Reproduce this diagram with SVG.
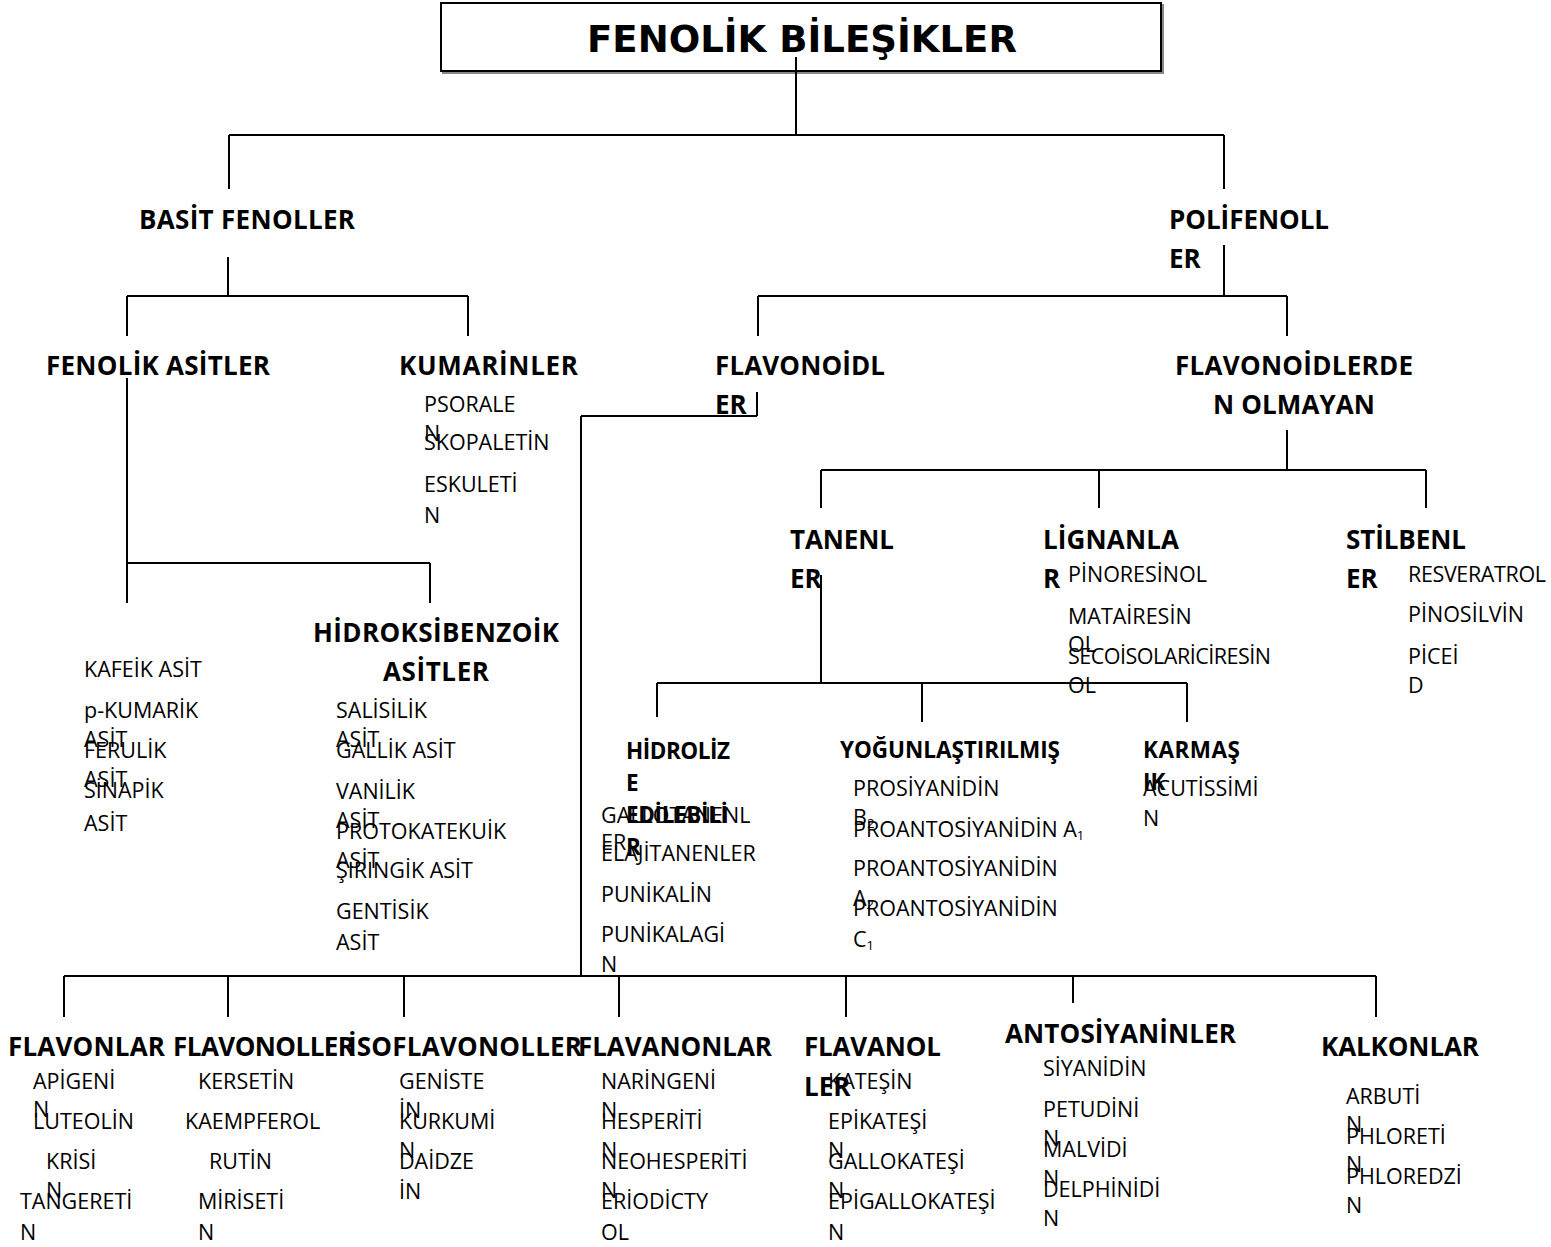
<svg xmlns="http://www.w3.org/2000/svg" width="1551" height="1247" viewBox="0 0 1551 1247">
<style>
.t{font-family:"Open Sans","Liberation Sans",sans-serif;font-size:21.5px;fill:#000}
.b{font-family:"Open Sans","Liberation Sans",sans-serif;font-size:26px;font-weight:bold;fill:#000}
.m{font-size:22.5px}
.c line{stroke:#000;stroke-width:2}
.s{font-size:13px}
</style>
<rect width="1551" height="1247" fill="#fff"/>
<g id="title">
<rect x="443" y="5" width="720" height="68" fill="none" stroke="#888" stroke-width="2"/>
<rect x="441" y="3" width="720" height="68" fill="#fff" stroke="#000" stroke-width="2"/>
<text x="587" y="52" font-family="DejaVu Sans,sans-serif" font-weight="bold" font-size="37" textLength="430" lengthAdjust="spacingAndGlyphs">FENOLİK BİLEŞİKLER</text>
</g>
<g id="connectors" class="c">
<line x1="796" y1="57" x2="796" y2="135"/>
<line x1="229" y1="135" x2="1224" y2="135"/>
<line x1="229" y1="135" x2="229" y2="189"/>
<line x1="1224" y1="135" x2="1224" y2="189"/>
<line x1="228" y1="257" x2="228" y2="296"/>
<line x1="127" y1="296" x2="468" y2="296"/>
<line x1="127" y1="296" x2="127" y2="336"/>
<line x1="468" y1="296" x2="468" y2="336"/>
<line x1="1224" y1="245" x2="1224" y2="296"/>
<line x1="758" y1="296" x2="1287" y2="296"/>
<line x1="758" y1="296" x2="758" y2="336"/>
<line x1="1287" y1="296" x2="1287" y2="336"/>
<line x1="127" y1="378" x2="127" y2="603"/>
<line x1="127" y1="563" x2="430" y2="563"/>
<line x1="430" y1="563" x2="430" y2="603"/>
<line x1="757" y1="392" x2="757" y2="416"/>
<line x1="581" y1="416" x2="757" y2="416"/>
<line x1="581" y1="416" x2="581" y2="977"/>
<line x1="1287" y1="430" x2="1287" y2="470"/>
<line x1="821" y1="470" x2="1426" y2="470"/>
<line x1="821" y1="470" x2="821" y2="508"/>
<line x1="1099" y1="470" x2="1099" y2="508"/>
<line x1="1426" y1="470" x2="1426" y2="508"/>
<line x1="821" y1="575" x2="821" y2="683"/>
<line x1="657" y1="683" x2="1187" y2="683"/>
<line x1="657" y1="683" x2="657" y2="717"/>
<line x1="922" y1="683" x2="922" y2="722"/>
<line x1="1187" y1="683" x2="1187" y2="722"/>
<line x1="64" y1="976" x2="1376" y2="976"/>
<line x1="64" y1="976" x2="64" y2="1017"/>
<line x1="228" y1="976" x2="228" y2="1017"/>
<line x1="404" y1="976" x2="404" y2="1017"/>
<line x1="619" y1="976" x2="619" y2="1017"/>
<line x1="846" y1="976" x2="846" y2="1017"/>
<line x1="1073" y1="976" x2="1073" y2="1003"/>
<line x1="1376" y1="976" x2="1376" y2="1017"/>
</g>
<g id="basit-fenoller"><text class="b" x="139" y="229" textLength="216">BASİT FENOLLER</text></g>
<g id="polifenoller"><text class="b" x="1169" y="229" textLength="160">POLİFENOLL</text><text class="b" x="1169" y="268">ER</text></g>
<g id="fenolik-asitler"><text class="b" x="46" y="375" textLength="224">FENOLİK ASİTLER</text></g>
<g id="kumarinler"><text class="b" x="399" y="375" textLength="179">KUMARİNLER</text>
<text class="t" x="424" y="412">PSORALE</text>
<text class="t" x="424" y="441">N</text>
<text class="t" x="424" y="450">SKOPALETİN</text>
<text class="t" x="424" y="492">ESKULETİ</text>
<text class="t" x="424" y="523">N</text>
</g>
<g id="flavonoidler"><text class="b" x="715" y="375" textLength="170">FLAVONOİDL</text><text class="b" x="715" y="414">ER</text></g>
<g id="flavonoid-olmayan"><text class="b" x="1175" y="375" textLength="238">FLAVONOİDLERDE</text><text class="b" x="1213" y="414" textLength="162">N OLMAYAN</text></g>
<g id="hidroksisinnamik">
<text class="t" x="84" y="677">KAFEİK ASİT</text>
<text class="t" x="84" y="718">p-KUMARİK</text>
<text class="t" x="84" y="747">ASİT</text>
<text class="t" x="84" y="758">FERULİK</text>
<text class="t" x="84" y="787">ASİT</text>
<text class="t" x="84" y="798">SİNAPİK</text>
<text class="t" x="84" y="831">ASİT</text>
</g>
<g id="hidroksibenzoik">
<text class="b" x="313" y="642" textLength="246">HİDROKSİBENZOİK</text>
<text class="b" x="383" y="681" textLength="106">ASİTLER</text>
<text class="t" x="336" y="718">SALİSİLİK</text>
<text class="t" x="336" y="747">ASİT</text>
<text class="t" x="336" y="758">GALLİK ASİT</text>
<text class="t" x="336" y="799">VANİLİK</text>
<text class="t" x="336" y="828">ASİT</text>
<text class="t" x="336" y="839">PROTOKATEKUİK</text>
<text class="t" x="336" y="868">ASİT</text>
<text class="t" x="336" y="878">ŞIRINGİK ASİT</text>
<text class="t" x="336" y="919">GENTİSİK</text>
<text class="t" x="336" y="950">ASİT</text>
</g>
<g id="tanenler"><text class="b" x="790" y="549" textLength="104">TANENL</text><text class="b" x="790" y="588">ER</text></g>
<g id="lignanlar"><text class="b" x="1043" y="549" textLength="136">LİGNANLA</text><text class="b" x="1043" y="588">R</text>
<text class="t" x="1068" y="582">PİNORESİNOL</text>
<text class="t" x="1068" y="624">MATAİRESİN</text>
<text class="t" x="1068" y="652">OL</text>
<text class="t" x="1068" y="664" textLength="203">SECOİSOLARİCİRESİN</text>
<text class="t" x="1068" y="693">OL</text>
</g>
<g id="stilbenler"><text class="b" x="1346" y="549" textLength="120">STİLBENL</text><text class="b" x="1346" y="588">ER</text>
<text class="t" x="1408" y="582" textLength="138">RESVERATROL</text>
<text class="t" x="1408" y="622">PİNOSİLVİN</text>
<text class="t" x="1408" y="664">PİCEİ</text>
<text class="t" x="1408" y="693">D</text>
</g>
<g id="hidrolize">
<text class="t" x="601" y="823">GALLOTANENL</text>
<text class="t" x="601" y="850">ER</text>
<text class="b m" x="626" y="759" textLength="104">HİDROLİZ</text>
<text class="b m" x="626" y="791">E</text>
<text class="b m" x="626" y="823" textLength="102">EDİLEBİLİ</text>
<text class="b m" x="626" y="855">R</text>
<text class="t" x="601" y="861">ELAJİTANENLER</text>
<text class="t" x="601" y="902">PUNİKALİN</text>
<text class="t" x="601" y="942">PUNİKALAGİ</text>
<text class="t" x="601" y="972">N</text>
</g>
<g id="yogunlastirilmis">
<text class="b m" x="840" y="758" textLength="220">YOĞUNLAŞTIRILMIŞ</text>
<text class="t" x="853" y="796">PROSİYANİDİN</text>
<text class="t" x="853" y="825">B<tspan class="s" dy="3">2</tspan></text>
<text class="t" x="853" y="837">PROANTOSİYANİDİN A<tspan class="s" dy="3">1</tspan></text>
<text class="t" x="853" y="876">PROANTOSİYANİDİN</text>
<text class="t" x="853" y="906">A<tspan class="s" dy="3">2</tspan></text>
<text class="t" x="853" y="916">PROANTOSİYANİDİN</text>
<text class="t" x="853" y="947">C<tspan class="s" dy="3">1</tspan></text>
</g>
<g id="karmasik">
<text class="b m" x="1143" y="758" textLength="97">KARMAŞ</text>
<text class="b m" x="1143" y="790">IK</text>
<text class="t" x="1143" y="796">ACUTİSSİMİ</text>
<text class="t" x="1143" y="826">N</text>
</g>
<g id="flavonlar"><text class="b" x="8" y="1056" textLength="157">FLAVONLAR</text>
<text class="t" x="33" y="1089">APİGENİ</text>
<text class="t" x="33" y="1117">N</text>
<text class="t" x="33" y="1129">LUTEOLİN</text>
<text class="t" x="46" y="1169">KRİSİ</text>
<text class="t" x="46" y="1198">N</text>
<text class="t" x="20" y="1209">TANGERETİ</text>
<text class="t" x="20" y="1240">N</text>
</g>
<g id="flavonoller"><text class="b" x="173" y="1056" textLength="182">FLAVONOLLER</text>
<text class="t" x="198" y="1089">KERSETİN</text>
<text class="t" x="185" y="1129">KAEMPFEROL</text>
<text class="t" x="209" y="1169">RUTİN</text>
<text class="t" x="198" y="1209">MİRİSETİ</text>
<text class="t" x="198" y="1240">N</text>
</g>
<g id="isoflavonoller"><text class="b" x="348" y="1056" textLength="234">İSOFLAVONOLLER</text>
<text class="t" x="399" y="1089">GENİSTE</text>
<text class="t" x="399" y="1118">İN</text>
<text class="t" x="399" y="1129">KURKUMİ</text>
<text class="t" x="399" y="1158">N</text>
<text class="t" x="399" y="1169">DAİDZE</text>
<text class="t" x="399" y="1199">İN</text>
</g>
<g id="flavanonlar"><text class="b" x="578" y="1056" textLength="194">FLAVANONLAR</text>
<text class="t" x="601" y="1089">NARİNGENİ</text>
<text class="t" x="601" y="1118">N</text>
<text class="t" x="601" y="1129">HESPERİTİ</text>
<text class="t" x="601" y="1158">N</text>
<text class="t" x="601" y="1169">NEOHESPERİTİ</text>
<text class="t" x="601" y="1198">N</text>
<text class="t" x="601" y="1209">ERİODİCTY</text>
<text class="t" x="601" y="1240">OL</text>
</g>
<g id="flavanoller"><text class="b" x="804" y="1056" textLength="137">FLAVANOL</text><text class="b" x="804" y="1096">LER</text>
<text class="t" x="828" y="1089">KATEŞİN</text>
<text class="t" x="828" y="1129">EPİKATEŞİ</text>
<text class="t" x="828" y="1158">N</text>
<text class="t" x="828" y="1169">GALLOKATEŞİ</text>
<text class="t" x="828" y="1198">N</text>
<text class="t" x="828" y="1209">EPİGALLOKATEŞİ</text>
<text class="t" x="828" y="1240">N</text>
</g>
<g id="antosiyaninler"><text class="b" x="1005" y="1043" textLength="231">ANTOSİYANİNLER</text>
<text class="t" x="1043" y="1076">SİYANİDİN</text>
<text class="t" x="1043" y="1117">PETUDİNİ</text>
<text class="t" x="1043" y="1146">N</text>
<text class="t" x="1043" y="1157">MALVİDİ</text>
<text class="t" x="1043" y="1186">N</text>
<text class="t" x="1043" y="1197">DELPHİNİDİ</text>
<text class="t" x="1043" y="1226">N</text>
</g>
<g id="kalkonlar"><text class="b" x="1321" y="1056" textLength="158">KALKONLAR</text>
<text class="t" x="1346" y="1104">ARBUTİ</text>
<text class="t" x="1346" y="1132">N</text>
<text class="t" x="1346" y="1144">PHLORETİ</text>
<text class="t" x="1346" y="1172">N</text>
<text class="t" x="1346" y="1184">PHLOREDZİ</text>
<text class="t" x="1346" y="1213">N</text>
</g>
</svg>
